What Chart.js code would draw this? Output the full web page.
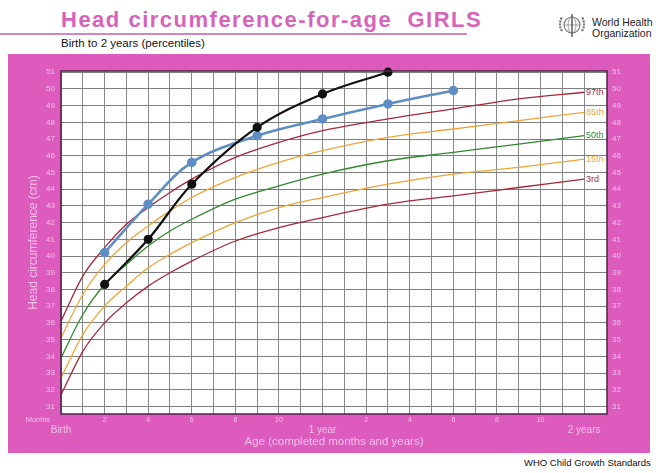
<!DOCTYPE html>
<html>
<head>
<meta charset="utf-8">
<script src="https://cdn.jsdelivr.net/npm/chart.js@4.4.1/dist/chart.umd.min.js"></script>
<style>
body { margin:0; width:658px; height:473px; background:#fff; position:relative; overflow:hidden; font-family: Arial, "Liberation Sans", sans-serif; }
#title { position:absolute; left:61px; top:9px; font-size:22px; line-height:22px; font-weight:bold; color:#d763bb; letter-spacing:1.5px; white-space:nowrap; }
#rule { position:absolute; left:0; top:33px; width:467px; height:2px; background:#cf86c2; }
#sub { position:absolute; left:61px; top:37px; font-size:11.5px; line-height:12px; color:#111; white-space:nowrap; }
#emblem { position:absolute; left:555px; top:11px; }
#who { position:absolute; left:592px; top:17px; font-size:10.5px; line-height:10.6px; color:#222; white-space:nowrap; }
#box { position:absolute; left:8px; top:54px; width:642px; height:399px; background:#dc5bbd; }
#foot { position:absolute; left:524px; top:457px; font-size:9.5px; line-height:12px; color:#111; white-space:nowrap; }
</style>
</head>
<body>
<div id="title">Head circumference-for-age&nbsp; GIRLS</div>
<div id="rule"></div>
<div id="sub">Birth to 2 years (percentiles)</div>
<svg id="emblem" width="34" height="28" viewBox="0 0 34 28">
  <circle cx="17" cy="14" r="8" fill="none" stroke="#777" stroke-width="1.2"/>
  <ellipse cx="17" cy="14" rx="4" ry="8" fill="none" stroke="#888" stroke-width="0.8"/>
  <line x1="9" y1="14" x2="25" y2="14" stroke="#888" stroke-width="0.8"/>
  <path d="M7 20 Q3 14 7 6 M27 20 Q31 14 27 6" fill="none" stroke="#777" stroke-width="2.2" stroke-dasharray="2 1"/>
  <line x1="17" y1="3" x2="17" y2="26" stroke="#555" stroke-width="1.4"/>
</svg>
<div id="who">World Health<br>Organization</div>
<div id="box"><canvas id="myChart" width="642" height="399"></canvas></div>
<div id="foot">WHO Child Growth Standards</div>
<script>
// percentile curves, girls, head circumference (cm)
const months = [0,1,2,3,4,5,6,8,10,12,15,18,21,24];
const p3  = [31.7,34.3,36.0,37.2,38.2,39.0,39.7,40.9,41.7,42.3,43.1,43.6,44.1,44.6];
const p15 = [32.7,35.3,37.0,38.2,39.3,40.1,40.8,42.0,42.9,43.5,44.3,44.9,45.3,45.8];
const p50 = [33.9,36.5,38.3,39.5,40.6,41.5,42.2,43.4,44.2,44.9,45.7,46.2,46.7,47.2];
const p85 = [35.1,37.7,39.5,40.8,41.8,42.7,43.5,44.7,45.6,46.3,47.1,47.6,48.1,48.6];
const p97 = [36.1,38.8,40.5,41.9,42.9,43.8,44.6,45.9,46.8,47.5,48.2,48.8,49.4,49.8];
const pctNames  = ['97th','85th','50th','15th','3rd'];
const pctColors = ['#a8283a','#efa536','#2f8a2f','#efa536','#a8283a'];

// measured children
const blueAges  = [2,4,6,9,12,15,18];
const blueHc    = [40.2,43.1,45.6,47.2,48.2,49.1,49.9];
const blackAges = [2,4,6,9,12,15];
const blackHc   = [38.3,41.0,44.3,47.7,49.7,51.0];

const monthTicks = [0,1,2,3,4,5,6,7,8,9,10,11,12,13,14,15,16,17,18,19,20,21,22,23,24];
const cmTicks  = [31,31.5,32,32.5,33,33.5,34,34.5,35,35.5,36,36.5,37,37.5,38,38.5,39,39.5,40,40.5,41,41.5,42,42.5,43,43.5,44,44.5,45,45.5,46,46.5,47,47.5,48,48.5,49,49.5,50,50.5,51];
const ageMarks = [0,12,24];
const ageNames = ['Birth','1 year','2 years'];

const pinkText = '#f6c0ea';

const pts = (xs, ys) => xs.map((x, i) => ({x: x, y: ys[i]}));

const curve = (vals, col) => ({
    data: pts(months, vals),
    borderColor: col,
    borderWidth: 1.3,
    pointRadius: 0,
    cubicInterpolationMode: 'monotone',
    fill: false
});

const data = {
    datasets: [
        {data: pts(blackAges, blackHc), borderColor: '#111', backgroundColor: '#111', borderWidth: 2.2,
         pointRadius: 3.5, tension: 0.35, clip: false},
        {data: pts(blueAges, blueHc), borderColor: '#5e8ec4', backgroundColor: '#5e8ec4', borderWidth: 2.6,
         pointRadius: 3.5, tension: 0.35, clip: false},
        curve(p97, pctColors[0]),
        curve(p85, pctColors[1]),
        curve(p50, pctColors[2]),
        curve(p15, pctColors[3]),
        curve(p3, pctColors[4])
    ]
};

const pctSeries = [p97, p85, p50, p15, p3];

const sheet = {
    id: 'sheet',
    beforeDraw(chart) {
        const a = chart.chartArea, ctx = chart.ctx;
        ctx.save();
        ctx.fillStyle = '#fff';
        ctx.fillRect(a.left, a.top, a.right - a.left, a.bottom - a.top);
        ctx.restore();
    },
    afterDatasetsDraw(chart) {
        const ctx = chart.ctx, x = chart.scales.x, y = chart.scales.y;
        ctx.save();
        ctx.font = '9px Arial';
        ctx.textAlign = 'left';
        ctx.textBaseline = 'middle';
        pctSeries.forEach((s, i) => {
            ctx.fillStyle = pctColors[i];
            ctx.fillText(pctNames[i], x.getPixelForValue(24) + 2, y.getPixelForValue(s[s.length - 1]));
        });
        // "Months" caption beside the month numbers
        ctx.fillStyle = pinkText;
        ctx.font = '7.5px Arial';
        ctx.textAlign = 'center';
        ctx.fillText('Months', x.left - 23, x.top + 6);
        // frame
        const a = chart.chartArea;
        ctx.strokeStyle = '#4b2444';
        ctx.lineWidth = 1.5;
        ctx.strokeRect(a.left, a.top, a.right - a.left, a.bottom - a.top);
        ctx.restore();
    }
};

const config = {
    type: 'line',
    data,
    plugins: [sheet],
    options: {
        responsive: false,
        animation: false,
        layout: {padding: {top: 17, left: 0, right: 0, bottom: 0}},
        plugins: {legend: {display: false}, tooltip: {enabled: false}},
        scales: {
            x: {
                type: 'linear', min: 0, max: 25.05, position: 'bottom',
                afterBuildTicks: s => { s.ticks = monthTicks.map(m => ({value: m})); },
                afterFit: s => { s.height = 10; },
                ticks: {autoSkip: false, maxRotation: 0, padding: 2, color: pinkText, font: {size: 7},
                        callback: v => (v % 12 && v % 2 === 0) ? String(v % 12) : ''},
                grid: {color: '#8a8a8a', lineWidth: 1, drawTicks: false},
                border: {display: false}
            },
            x2: {
                type: 'linear', min: 0, max: 25.05, position: 'bottom',
                afterBuildTicks: s => { s.ticks = ageMarks.map(m => ({value: m})); },
                afterFit: s => { s.height = 29; },
                ticks: {autoSkip: false, maxRotation: 0, padding: 0, color: pinkText, font: {size: 10},
                        callback: v => ageNames[ageMarks.indexOf(v)]},
                grid: {display: false, drawTicks: false},
                border: {display: false},
                title: {display: true, text: 'Age (completed months and years)', color: pinkText,
                        font: {size: 11.5}, padding: {top: 0, bottom: 4}}
            },
            y: {
                min: 30.55, max: 51.07, position: 'left',
                afterBuildTicks: s => { s.ticks = cmTicks.map(v => ({value: v})); },
                afterFit: s => { s.width = 53; },
                ticks: {padding: 6, color: pinkText, font: {size: 8},
                        callback: v => Number.isInteger(v) ? v : ''},
                grid: {color: c => (c.tick && Number.isInteger(c.tick.value)) ? '#7f7f7f' : '#a8a8a8', drawTicks: false},
                border: {display: false},
                title: {display: true, text: 'Head circumference (cm)', color: pinkText,
                        font: {size: 12}, padding: {top: 18, bottom: 0}}
            },
            y2: {
                min: 30.55, max: 51.07, position: 'right',
                afterBuildTicks: s => { s.ticks = cmTicks.map(v => ({value: v})); },
                afterFit: s => { s.width = 43; },
                ticks: {padding: 5, color: pinkText, font: {size: 8},
                        callback: v => Number.isInteger(v) ? v : ''},
                grid: {display: false, drawTicks: false},
                border: {display: false}
            }
        }
    }
};

var myChart = new Chart(
    document.getElementById('myChart'),
    config
);
</script>
</body>
</html>
